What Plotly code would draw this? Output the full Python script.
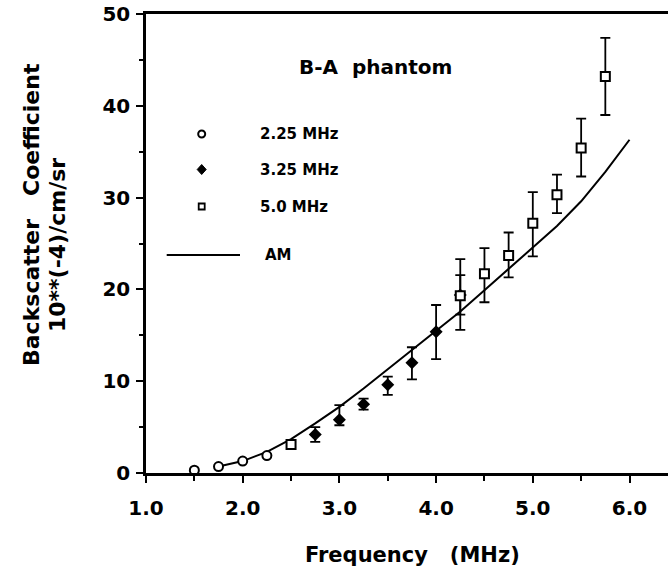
import plotly.graph_objects as go

# ---------------- data ----------------
freq_225 = [1.5, 1.75, 2.0, 2.25]
bsc_225 = [0.3, 0.7, 1.3, 1.9]

freq_325 = [2.75, 3.0, 3.25, 3.5, 3.75, 4.0, 4.25]
bsc_325 = [4.2, 5.8, 7.5, 9.6, 12.0, 15.4, 19.4]
err_325_plus = [0.8, 1.6, 0.6, 0.9, 1.7, 2.9, 2.15]
err_325_minus = [0.8, 0.6, 0.6, 1.1, 1.8, 3.0, 2.15]

freq_50 = [2.5, 4.25, 4.5, 4.75, 5.0, 5.25, 5.5, 5.75]
bsc_50 = [3.1, 19.3, 21.7, 23.7, 27.2, 30.3, 35.4, 43.2]
err_50_plus = [0.3, 4.0, 2.8, 2.5, 3.4, 2.2, 3.2, 4.2]
err_50_minus = [0.3, 3.7, 3.1, 2.4, 3.6, 2.0, 3.1, 4.2]

freq_am = [1.75, 2.0, 2.25, 2.5, 2.75, 3.0, 3.25, 3.5, 3.75, 4.0,
           4.25, 4.5, 4.75, 5.0, 5.25, 5.5, 5.75, 6.0]
bsc_am = [0.7, 1.3, 2.3, 3.7, 5.4, 7.2, 9.2, 11.3, 13.4, 15.5,
          17.6, 19.9, 22.2, 24.5, 26.9, 29.6, 32.8, 36.3]

x_ticks = [1, 2, 3, 4, 5, 6]
x_tick_labels = ["1.0", "2.0", "3.0", "4.0", "5.0", "6.0"]
y_ticks = [0, 10, 20, 30, 40, 50]

legend_labels = ["2.25 MHz", "3.25 MHz", "5.0 MHz", "AM"]

# ---------------- layout geometry ----------------
W, H = 668, 573
PLOT_L, PLOT_T, PLOT_B = 146, 14, 473          # pixel positions of the plot area
ML, MR, MT, MB = PLOT_L, 0, PLOT_T, H - PLOT_B
PW, PH = W - ML - MR, H - MT - MB
PX_PER_UNIT = 96.7
X_MAX = 1 + PW / PX_PER_UNIT

def px(xp):
    return (xp - PLOT_L) / PW

def py(yp):
    return (PLOT_B - yp) / PH

FONT = "DejaVu Sans"

fig = go.Figure()

fig.add_trace(go.Scatter(
    x=freq_am, y=bsc_am, mode="lines",
    line=dict(color="black", width=2), showlegend=False, hoverinfo="skip"))

err_style = dict(type="data", color="black", thickness=1.8, width=5, symmetric=False)

fig.add_trace(go.Scatter(
    x=freq_325, y=bsc_325, mode="markers",
    marker=dict(symbol="diamond", size=10, color="black"),
    error_y=dict(array=err_325_plus, arrayminus=err_325_minus, **err_style),
    showlegend=False))

fig.add_trace(go.Scatter(
    x=freq_50, y=bsc_50, mode="markers",
    marker=dict(symbol="square", size=9, color="white", line=dict(color="black", width=2)),
    error_y=dict(array=err_50_plus, arrayminus=err_50_minus, **err_style),
    showlegend=False))

fig.add_trace(go.Scatter(
    x=freq_225, y=bsc_225, mode="markers",
    marker=dict(symbol="circle", size=9, color="white", line=dict(color="black", width=2)),
    showlegend=False))

# ---------------- legend (drawn manually) ----------------
shapes = []
leg_x = px(201.7)
rows_y = [134, 169.5, 206.5]
shapes.append(dict(type="circle", xref="paper", yref="paper", xsizemode="pixel", ysizemode="pixel",
                   xanchor=leg_x, yanchor=py(rows_y[0]), x0=-3.5, x1=3.5, y0=-3.5, y1=3.5,
                   line=dict(color="black", width=2), fillcolor="white"))
shapes.append(dict(type="path", xref="paper", yref="paper", xsizemode="pixel", ysizemode="pixel",
                   xanchor=leg_x, yanchor=py(rows_y[1]),
                   path="M 0 5 L 4.5 0 L 0 -5 L -4.5 0 Z",
                   line=dict(color="black", width=1), fillcolor="black"))
shapes.append(dict(type="rect", xref="paper", yref="paper", xsizemode="pixel", ysizemode="pixel",
                   xanchor=leg_x, yanchor=py(rows_y[2]), x0=-3, x1=3, y0=-3, y1=3,
                   line=dict(color="black", width=1.8), fillcolor="white"))
shapes.append(dict(type="line", xref="paper", yref="paper",
                   x0=px(166.7), x1=px(240), y0=py(255), y1=py(255),
                   line=dict(color="black", width=2)))

annotations = []
for lab, yp in zip(legend_labels[:3], rows_y):
    annotations.append(dict(text=lab, xref="paper", yref="paper", x=px(258), y=py(yp),
                            xanchor="left", yanchor="middle", showarrow=False,
                            font=dict(family=FONT, size=15, color="black", weight="bold")))
annotations.append(dict(text=legend_labels[3], xref="paper", yref="paper", x=px(263), y=py(255),
                        xanchor="left", yanchor="middle", showarrow=False,
                        font=dict(family=FONT, size=15, color="black", weight="bold")))

annotations.append(dict(text="B-A  phantom", xref="paper", yref="paper", x=px(375), y=py(67),
                        xanchor="center", yanchor="middle", showarrow=False,
                        font=dict(family=FONT, size=20, color="black", weight="bold")))

annotations.append(dict(text="Frequency   (MHz)", xref="paper", yref="paper", x=px(412), y=py(555),
                        xanchor="center", yanchor="middle", showarrow=False,
                        font=dict(family=FONT, size=21, color="black", weight="bold")))
annotations.append(dict(text="Backscatter   Coefficient", xref="paper", yref="paper",
                        x=px(31), y=py(215), textangle=-90,
                        xanchor="center", yanchor="middle", showarrow=False,
                        font=dict(family=FONT, size=22, color="black", weight="bold")))
annotations.append(dict(text="10**(-4)/cm/sr", xref="paper", yref="paper",
                        x=px(57), y=py(245), textangle=-90,
                        xanchor="center", yanchor="middle", showarrow=False,
                        font=dict(family=FONT, size=22, color="black", weight="bold")))

fig.update_layout(
    width=W, height=H,
    margin=dict(l=ML, r=MR, t=MT, b=MB, pad=0, autoexpand=False),
    paper_bgcolor="white", plot_bgcolor="white",
    shapes=shapes, annotations=annotations,
    showlegend=False,
    xaxis=dict(range=[1, X_MAX], tickvals=x_ticks, ticktext=x_tick_labels, automargin=False,
               showgrid=False, zeroline=False, showline=True, linecolor="black", linewidth=2.5,
               mirror=True, ticks="outside", ticklen=7, tickwidth=2, tickcolor="black",
               minor=dict(dtick=0.5, tick0=1, ticks="outside", ticklen=5, tickwidth=2, tickcolor="black"),
               ticklabelstandoff=8, ticklabeloverflow="allow",
               tickfont=dict(family=FONT, size=20, color="black", weight="bold")),
    yaxis=dict(range=[0, 50], tickvals=y_ticks, automargin=False,
               showgrid=False, zeroline=False, showline=True, linecolor="black", linewidth=2.5,
               ticks="outside", ticklen=7, tickwidth=2, tickcolor="black",
               minor=dict(dtick=5, tick0=0, ticks="outside", ticklen=4, tickwidth=1.5, tickcolor="black"),
               ticklabelstandoff=2, ticklabeloverflow="allow",
               tickfont=dict(family=FONT, size=20, color="black", weight="bold")),
)

# remove the default 8px page margin so the figure sits at the window corner
fig.write_html("out.html", config={"displayModeBar": False},
               post_script="document.body.style.margin='0px';")
